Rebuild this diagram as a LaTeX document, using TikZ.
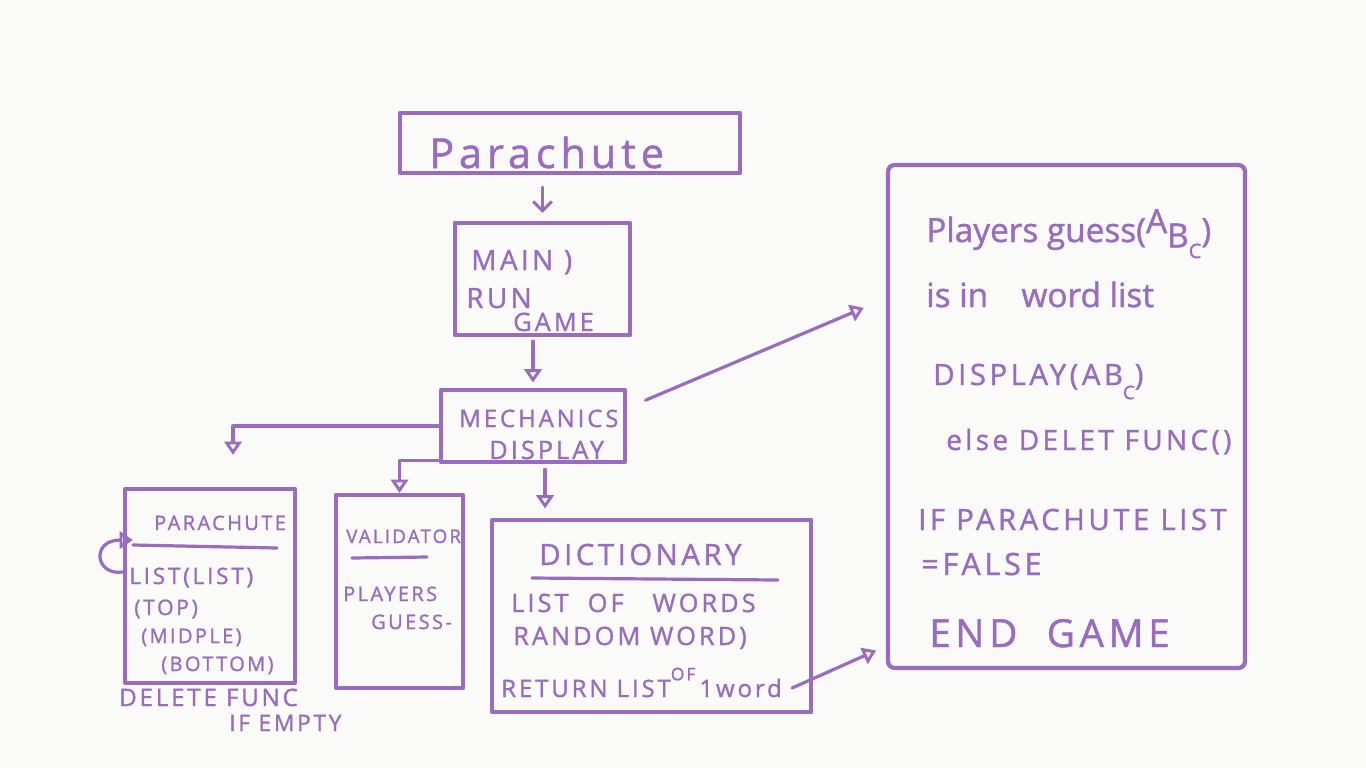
\documentclass[tikz,border=0pt]{standalone}
\usepackage{fontspec}
\usetikzlibrary{arrows.meta,calc}
\newfontfamily\hand{Open Sans}[LetterSpace=12,FakeBold=1.2]
\newfontfamily\handlow{Open Sans}[FakeBold=1.2]
\newcommand\inksz[1]{\fontsize{#1}{#1}\selectfont}
\definecolor{inkpurple}{RGB}{154,108,192}
\definecolor{paper}{RGB}{250,250,248}

\begin{document}
\begin{tikzpicture}[x=0.75pt,y=0.75pt,yscale=-1,xscale=1,
  sketchbox/.style={draw=inkpurple,line width=3.2pt,inner sep=0pt,line join=round},
  wire/.style={draw=inkpurple,line width=2.4pt,line cap=round,line join=round},
  vtip/.style={-{Straight Barb[length=7pt,width=14pt,line width=2.2pt]}},
  ttip/.style={-{Triangle[open,length=10pt,width=13pt,line width=2.2pt]}},
  scribble/.style={text=inkpurple,inner sep=0.75pt}]

\useasboundingbox (0,0) rectangle (1366,768);
\fill[paper] (0,0) rectangle (1366,768);

%Shape: Rectangle [id:title]
\node [sketchbox,minimum width=255pt,minimum height=45pt] (title) at (570,143) {};
%Shape: Rectangle [id:mainbox]
\node [sketchbox,minimum width=131.25pt,minimum height=84pt] (mainbox) at (542.5,279) {};
%Shape: Rectangle [id:mech]
\node [sketchbox,minimum width=138pt,minimum height=54pt] (mech) at (533,426) {};
%Shape: Rectangle [id:parbox]
\node [sketchbox,minimum width=127.5pt,minimum height=145.5pt] (parbox) at (210,586) {};
%Shape: Rectangle [id:valbox]
\node [sketchbox,minimum width=95.25pt,minimum height=144.75pt] (valbox) at (399.5,591.5) {};
%Shape: Rectangle [id:dictbox]
\node [sketchbox,minimum width=239.25pt,minimum height=144pt] (dictbox) at (651.5,616) {};
%Shape: Rectangle [id:logic]
\node [sketchbox,rounded corners=5pt,minimum width=267.75pt,minimum height=377.25pt] (logic) at (1066.5,416.5) {};

%Straight Lines [id:dividers]
\draw [wire] (133,545) -- (277,548) ;
\draw [wire] (352,558) -- (427,557) ;
\draw [wire] (532,578) -- (778,580) ;

%Straight Lines [id:connectors]
\draw [wire,vtip,shorten <=9pt,shorten >=6pt] (mainbox.north |- title.south) -- (mainbox.north) ;
\draw [wire,ttip,shorten <=3pt,shorten >=4pt] (mech.north |- mainbox.south) -- (mech.north) ;
\draw [wire,ttip,shorten <=15pt,shorten >=18pt] ($(mech.east)+(0,-18)$) -- ($(logic.west)+(0,-118)$) ;
\draw [wire,ttip,shorten >=24pt] (mech.west) -| ($(parbox.north)+(23,0)$) ;
\draw [wire,ttip] ($(mech.south west)+(0,-4)$) -| (valbox.north) ;
\draw [wire,ttip,shorten <=4pt,shorten >=7pt] ($(mech.south)+(12,0)$) -- ($(mech.south |- dictbox.north)+(12,0)$) ;
\draw [wire,ttip,shorten >=8pt] ($(dictbox.east)+(-21,72)$) -- ($(logic.south west)+(0,-24)$) ;
%Curve Lines [id:selfloop]
\draw [wire,ttip] ($(parbox.west)+(0,-14)$) .. controls +(-28,4) and +(-42,0) .. ($(parbox.west)+(10,-46)$) ;

% Text Node
\draw (428,168) node [anchor=base west][scribble] (ttltxt) {\hand\inksz{31}Parachute};
% Text Node
\draw (470,270) node [anchor=base west][scribble] (maintxt) {\hand\inksz{21}MAIN )};
% Text Node
\draw (465,308) node [anchor=base west][scribble] (runtxt) {\hand\inksz{21}RUN};
% Text Node
\draw (512,331) node [anchor=base west][scribble] (gametxt) {\hand\inksz{19}GAME};
% Text Node
\draw (458,427) node [anchor=base west][scribble] (mechtxt) {\hand\inksz{18}MECHANICS};
% Text Node
\draw (488,459) node [anchor=base west][scribble] (disptxt) {\hand\inksz{19}DISPLAY};

% Text Node
\draw (153,530) node [anchor=base west][scribble] (partxt) {\hand\inksz{15}PARACHUTE};
% Text Node
\draw (128,584) node [anchor=base west][scribble] (listtxt) {\hand\inksz{17}LIST(LIST)};
% Text Node
\draw (133,615) node [anchor=base west][scribble] (toptxt) {\hand\inksz{16}(TOP)};
% Text Node
\draw (140,643) node [anchor=base west][scribble] (midtxt) {\hand\inksz{15}(MIDPLE)};
% Text Node
\draw (160,671) node [anchor=base west][scribble] (bottxt) {\hand\inksz{15}(BOTTOM)};
% Text Node
\draw (118,706) node [anchor=base west][scribble] (deltxt) {\hand\inksz{18}DELETE FUNC};
% Text Node
\draw (228,731) node [anchor=base west][scribble] (emptytxt) {\hand\inksz{17}IF EMPTY};

% Text Node
\draw (345,543) node [anchor=base west][scribble] (valtxt) {\hand\inksz{14}VALIDATOR};
% Text Node
\draw (342,601) node [anchor=base west][scribble] (plytxt) {\hand\inksz{15}PLAYERS};
% Text Node
\draw (370,629) node [anchor=base west][scribble] (guesstxt) {\hand\inksz{15}GUESS-};

% Text Node
\draw (538,565) node [anchor=base west][scribble] (dicttxt) {\hand\inksz{22}DICTIONARY};
% Text Node
\draw (510,612) node [anchor=base west][scribble] (wordstxt) {\hand\inksz{19}LIST\ \ OF\ \ \ WORDS};
% Text Node
\draw (512,645) node [anchor=base west][scribble] (randtxt) {\hand\inksz{19}RANDOM WORD)};
% Text Node
\draw (500,697) node [anchor=base west][scribble] (rettxt) {\hand\inksz{18}RETURN LIST\raisebox{1.3ex}{\inksz{13}OF}\,1word};

% Text Node
\draw (925,242) node [anchor=base west][scribble] (guessline) {\handlow\inksz{25}Players guess(\raisebox{0.5ex}{A}\raisebox{-0.3ex}{B}\raisebox{-0.9ex}{\inksz{15}C})};
% Text Node
\draw (925,307) node [anchor=base west][scribble] (inline) {\handlow\inksz{25}is in\quad word list};
% Text Node
\draw (932,385) node [anchor=base west][scribble] (displine) {\hand\inksz{22}DISPLAY(AB\raisebox{-0.9ex}{\inksz{14}C})};
% Text Node
\draw (945,450) node [anchor=base west][scribble] (elseline) {\hand\inksz{21}else DELET FUNC()};
% Text Node
\draw (917,530) node [anchor=base west][scribble] (ifline) {\hand\inksz{22}IF PARACHUTE LIST};
% Text Node
\draw (920,575) node [anchor=base west][scribble] (falseline) {\hand\inksz{23}=FALSE};
% Text Node
\draw (928,647) node [anchor=base west][scribble] (endline) {\hand\inksz{29}END\ \ GAME};

\end{tikzpicture}
\end{document}
